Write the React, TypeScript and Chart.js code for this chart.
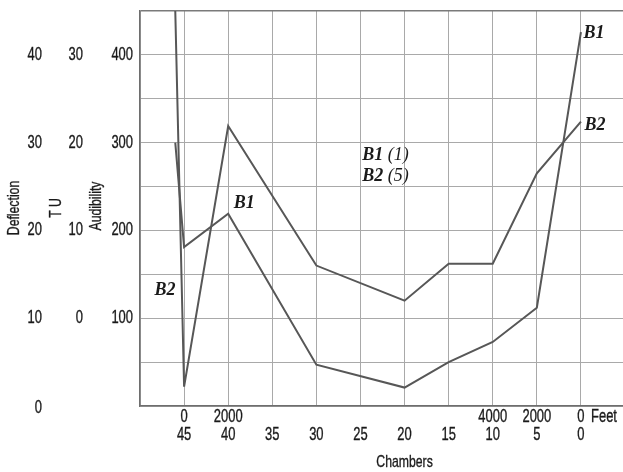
import React, { useEffect, useRef } from "react";
import { Chart, registerables } from "chart.js";

Chart.register(...registerables);

// Chambers (x) and audibility (y) for each curve
const B1_CHAMBERS = [46, 45, 40, 30, 20, 15, 10, 5, 0];
const B1_VALUES = [300, 181, 219, 47, 21, 50, 73, 112, 426];
const B2_CHAMBERS = [46, 45, 40, 30, 20, 15, 10, 5, 0];
const B2_VALUES = [450, 22, 319, 160, 120, 162, 162, 265, 324];

// Tick labels
const CHAMBER_TICKS = [45, 40, 35, 30, 25, 20, 15, 10, 5, 0];
const FEET_CHAMBERS = [45, 40, 10, 5, 0];
const FEET_LABELS = ["0", "2000", "4000", "2000", "0"];
const AUDIBILITY_TICKS = [100, 200, 300, 400];
const TU_TICKS = [0, 10, 20, 30];
const DEFLECTION_TICKS = [0, 10, 20, 30, 40];

const TEXT = "#1a1a1a";
const SANS = "'Liberation Sans', Arial, sans-serif";
const SERIF = "'Liberation Serif', 'DejaVu Serif', serif";

function narrowText(
  ctx: CanvasRenderingContext2D,
  text: string,
  x: number,
  y: number,
  size: number,
  align: CanvasTextAlign,
  rotate = 0
) {
  ctx.save();
  ctx.translate(x, y);
  if (rotate) ctx.rotate(rotate);
  ctx.scale(0.72, 1);
  ctx.font = `${size}px ${SANS}`;
  ctx.fillStyle = TEXT;
  ctx.strokeStyle = TEXT;
  ctx.lineWidth = 0.35;
  ctx.textAlign = align;
  ctx.textBaseline = "middle";
  ctx.fillText(text, 0, 0);
  ctx.strokeText(text, 0, 0);
  ctx.restore();
}

function serifLabel(
  ctx: CanvasRenderingContext2D,
  bold: string,
  rest: string,
  x: number,
  y: number,
  size: number
) {
  ctx.save();
  ctx.fillStyle = TEXT;
  ctx.textBaseline = "middle";
  ctx.textAlign = "left";
  ctx.font = `italic bold ${size}px ${SERIF}`;
  const w1 = ctx.measureText(bold).width;
  ctx.font = `italic ${size}px ${SERIF}`;
  const w2 = ctx.measureText(rest).width;
  const start = x - (w1 + w2) / 2;
  ctx.font = `italic bold ${size}px ${SERIF}`;
  ctx.fillText(bold, start, y);
  ctx.font = `italic ${size}px ${SERIF}`;
  ctx.fillText(rest, start + w1, y);
  ctx.restore();
}

const labelsPlugin = {
  id: "customLabels",
  afterDraw(chart: any) {
    const ctx: CanvasRenderingContext2D = chart.ctx;
    const xs = chart.scales.x;
    const ys = chart.scales.y;

    // left axes
    AUDIBILITY_TICKS.forEach((v) => {
      narrowText(ctx, String(v), 133, ys.getPixelForValue(v), 18, "right");
    });
    TU_TICKS.forEach((v) => {
      narrowText(ctx, String(v), 83, ys.getPixelForValue((v + 10) * 10), 18, "right");
    });
    DEFLECTION_TICKS.forEach((v) => {
      const y = ys.getPixelForValue(v * 10) + (v === 0 ? 2 : 0);
      narrowText(ctx, String(v), 42, y, 18, "right");
    });
    narrowText(ctx, "Deflection", 14, 208, 17, "center", -Math.PI / 2);
    narrowText(ctx, "T U", 56, 208, 17, "center", -Math.PI / 2);
    narrowText(ctx, "Audibility", 96, 206, 17, "center", -Math.PI / 2);

    // bottom axes
    FEET_CHAMBERS.forEach((c, i) => {
      narrowText(ctx, FEET_LABELS[i], xs.getPixelForValue(c), 417, 18, "center");
    });
    narrowText(ctx, "Feet", 604, 417, 18, "center");
    CHAMBER_TICKS.forEach((c) => {
      narrowText(ctx, String(c), xs.getPixelForValue(c), 435, 18, "center");
    });
    narrowText(ctx, "Chambers", xs.getPixelForValue(20), 462, 17, "center");

    // curve labels
    serifLabel(ctx, "B1", "", xs.getPixelForValue(40) + 16, ys.getPixelForValue(220) - 10, 18);
    serifLabel(ctx, "B2", "", xs.getPixelForValue(45) - 19, ys.getPixelForValue(132), 18);
    serifLabel(ctx, "B1", "", xs.getPixelForValue(0) + 13, ys.getPixelForValue(426) + 1, 18);
    serifLabel(ctx, "B2", "", xs.getPixelForValue(0) + 14, ys.getPixelForValue(320), 18);
    serifLabel(ctx, "B1", " (1)", xs.getPixelForValue(25) + 25, ys.getPixelForValue(286), 18);
    serifLabel(ctx, "B2", " (5)", xs.getPixelForValue(25) + 25, ys.getPixelForValue(262), 18);
  },
};

export default function App() {
  const ref = useRef<HTMLCanvasElement | null>(null);

  useEffect(() => {
    if (!ref.current) return;
    const toPoints = (xs: number[], ys: number[]) => xs.map((x, i) => ({ x, y: ys[i] }));
    const chart = new Chart(ref.current, {
      type: "line",
      data: {
        datasets: [
          {
            label: "B1",
            data: toPoints(B1_CHAMBERS, B1_VALUES),
            borderColor: "#575757",
            borderWidth: 2,
            pointRadius: 0,
            tension: 0,
          },
          {
            label: "B2",
            data: toPoints(B2_CHAMBERS, B2_VALUES),
            borderColor: "#575757",
            borderWidth: 2,
            pointRadius: 0,
            tension: 0,
          },
        ],
      },
      options: {
        animation: false,
        responsive: false,
        layout: { padding: { left: 140, top: 11, right: 0, bottom: 66 } },
        plugins: { legend: { display: false }, tooltip: { enabled: false } },
        scales: {
          x: {
            type: "linear",
            reverse: true,
            min: -4.77,
            max: 50,
            ticks: { display: false },
            grid: { color: "#a9a9a9", lineWidth: 1, drawTicks: false },
            border: { display: true, color: "#6e6e6e", width: 1.5 },
            afterBuildTicks: (s: any) => {
              s.ticks = [50, 45, 40, 35, 30, 25, 20, 15, 10, 5, 0].map((value) => ({ value }));
            },
          },
          y: {
            type: "linear",
            min: 0,
            max: 450,
            ticks: { display: false, stepSize: 50 },
            grid: {
              color: (c: any) => (c.tick && c.tick.value === 450 ? "#7a7a7a" : "#a9a9a9"),
              lineWidth: (c: any) => (c.tick && c.tick.value === 450 ? 1.5 : 1),
              drawTicks: false,
            },
            border: { display: true, color: "#6e6e6e", width: 1.5 },
          },
        },
      },
      plugins: [labelsPlugin],
    } as any);
    return () => chart.destroy();
  }, []);

  return (
    <div
      style={{
        position: "fixed",
        left: 0,
        top: 0,
        width: 623,
        height: 472,
        background: "#fff",
      }}
    >
      <canvas ref={ref} width={623} height={472} style={{ width: 623, height: 472 }} />
    </div>
  );
}
